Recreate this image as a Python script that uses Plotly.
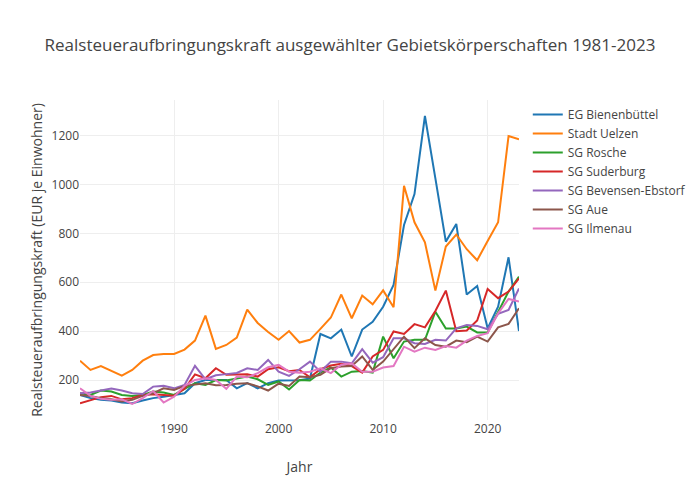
import plotly.graph_objects as go

years = list(range(1981, 2024))

bienenbuettel = [140, 127, 120, 117, 109, 106, 117, 127, 133, 140, 147, 188, 201, 201, 201, 167, 188, 167, 188, 199,
                 200, 200, 207, 389, 371, 407, 297, 407, 439, 500, 589, 834, 960, 1279, 1024, 766, 838, 550, 585, 412,
                 500, 702, 401]
uelzen = [280, 242, 258, 239, 219, 242, 280, 303, 307, 307, 325, 362, 464, 328, 344, 374, 488, 434, 397, 365,
          401, 354, 365, 410, 456, 550, 453, 546, 510, 567, 498, 994, 845, 763, 566, 746, 795, 735, 690, 769,
          845, 1197, 1184]
rosche = [147, 140, 158, 154, 140, 136, 140, 154, 150, 140, 165, 188, 181, 201, 199, 208, 215, 204, 181, 195,
          162, 201, 199, 231, 252, 215, 235, 238, 231, 378, 290, 358, 365, 365, 480, 411, 411, 419, 395, 395,
          480, 562, 623]
suderburg = [106, 120, 131, 136, 122, 127, 140, 143, 140, 137, 165, 224, 208, 249, 222, 222, 224, 215, 245, 253,
             237, 242, 212, 245, 260, 267, 258, 231, 297, 324, 399, 389, 429, 416, 483, 566, 400, 403, 444, 573,
             535, 562, 616]
bevensen = [147, 150, 158, 166, 158, 147, 144, 174, 177, 167, 181, 259, 204, 220, 225, 230, 249, 242, 283, 235,
            218, 245, 276, 235, 276, 276, 269, 327, 272, 294, 371, 371, 351, 348, 365, 362, 412, 426, 422, 408,
            471, 487, 575]
aue = [140, 136, 127, 122, 113, 120, 136, 147, 167, 160, 177, 181, 188, 180, 181, 186, 188, 175, 158, 186,
       177, 215, 212, 222, 249, 256, 258, 297, 242, 276, 327, 378, 331, 371, 344, 337, 362, 355, 378, 358,
       416, 430, 494]
ilmenau = [167, 136, 124, 120, 122, 103, 127, 156, 109, 133, 177, 201, 208, 201, 165, 215, 212, 229, 253, 263,
           235, 231, 235, 249, 229, 263, 269, 235, 235, 252, 258, 337, 317, 333, 324, 340, 333, 362, 381, 392,
           473, 532, 521]

series = [
    ("EG Bienenbüttel", bienenbuettel),
    ("Stadt Uelzen", uelzen),
    ("SG Rosche", rosche),
    ("SG Suderburg", suderburg),
    ("SG Bevensen-Ebstorf", bevensen),
    ("SG Aue", aue),
    ("SG Ilmenau", ilmenau),
]

fig = go.Figure()
for name, vals in series:
    fig.add_trace(go.Scatter(x=years, y=vals, mode="lines", name=name, line=dict(width=2)))

fig.update_layout(
    template="none",
    width=695, height=500,
    title=dict(text="Realsteueraufbringungskraft ausgewählter Gebietskörperschaften 1981-2023",
               x=0.492, xanchor="center", y=0.926, yanchor="middle"),
    xaxis=dict(title=dict(text="Jahr"), showgrid=True, gridcolor="#eee", zeroline=False),
    yaxis=dict(title=dict(text="Realsteueraufbringungskraft (EUR je Einwohner)"), showgrid=True,
               gridcolor="#eee", zeroline=False),
    margin=dict(l=72, r=80, t=92, b=88),
)

fig.write_html("out.html")
